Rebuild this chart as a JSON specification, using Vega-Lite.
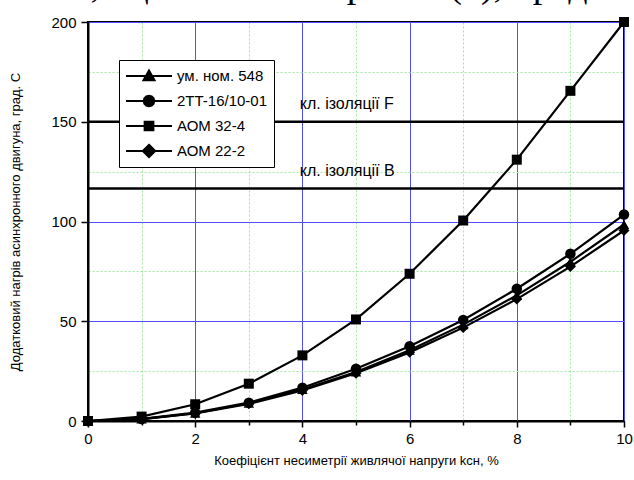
{
  "$schema": "https://vega.github.io/schema/vega-lite/v6.json",
  "width": 536,
  "height": 399,
  "autosize": {"type": "none"},
  "padding": {"left": 88, "top": 22, "right": 10, "bottom": 59},
  "background": "white",
  "title": {
    "text": "шині, оцінений за виразом (6), предста",
    "font": "Liberation Serif",
    "fontSize": 38,
    "fontWeight": "normal",
    "color": "black",
    "anchor": "start",
    "frame": "group",
    "baseline": "alphabetic",
    "dx": -78,
    "offset": -20
  },
  "config": {
    "view": {"stroke": "black", "strokeWidth": 2},
    "font": "Liberation Sans",
    "axis": {
      "domainColor": "black",
      "domainWidth": 2,
      "tickColor": "black",
      "tickWidth": 1.5,
      "labelFont": "Liberation Sans",
      "labelFontSize": 15,
      "labelColor": "black",
      "titleFont": "Liberation Sans",
      "titleFontSize": 13,
      "titleFontWeight": "normal",
      "titleColor": "black",
      "gridOpacity": 1
    },
    "legend": {
      "orient": "none",
      "legendX": 31,
      "legendY": 38,
      "strokeColor": "black",
      "fillColor": "white",
      "padding": 6,
      "symbolSize": 2116,
      "clipHeight": 20,
      "rowPadding": 5,
      "symbolStrokeWidth": 2,
      "symbolStrokeColor": "black",
      "symbolFillColor": "black",
      "symbolOpacity": 1,
      "labelFont": "Liberation Sans",
      "labelFontSize": 15,
      "labelColor": "black",
      "labelOffset": 4,
      "labelLimit": 300
    }
  },
  "datasets": {
    "series": [
      {"x": 0, "y": 0, "s": "ум. ном. 548"},
      {"x": 1, "y": 0.98, "s": "ум. ном. 548"},
      {"x": 2, "y": 3.9, "s": "ум. ном. 548"},
      {"x": 3, "y": 8.9, "s": "ум. ном. 548"},
      {"x": 4, "y": 15.8, "s": "ум. ном. 548"},
      {"x": 5, "y": 24.6, "s": "ум. ном. 548"},
      {"x": 6, "y": 35.5, "s": "ум. ном. 548"},
      {"x": 7, "y": 48.3, "s": "ум. ном. 548"},
      {"x": 8, "y": 63.0, "s": "ум. ном. 548"},
      {"x": 9, "y": 79.8, "s": "ум. ном. 548"},
      {"x": 10, "y": 98.5, "s": "ум. ном. 548"},
      {"x": 0, "y": 0, "s": "2TT-16/10-01"},
      {"x": 1, "y": 1.03, "s": "2TT-16/10-01"},
      {"x": 2, "y": 4.2, "s": "2TT-16/10-01"},
      {"x": 3, "y": 9.2, "s": "2TT-16/10-01"},
      {"x": 4, "y": 16.7, "s": "2TT-16/10-01"},
      {"x": 5, "y": 26.2, "s": "2TT-16/10-01"},
      {"x": 6, "y": 37.5, "s": "2TT-16/10-01"},
      {"x": 7, "y": 50.6, "s": "2TT-16/10-01"},
      {"x": 8, "y": 66.3, "s": "2TT-16/10-01"},
      {"x": 9, "y": 83.8, "s": "2TT-16/10-01"},
      {"x": 10, "y": 103.5, "s": "2TT-16/10-01"},
      {"x": 0, "y": 0, "s": "АОМ 32-4"},
      {"x": 1, "y": 2.2, "s": "АОМ 32-4"},
      {"x": 2, "y": 8.4, "s": "АОМ 32-4"},
      {"x": 3, "y": 18.7, "s": "АОМ 32-4"},
      {"x": 4, "y": 32.9, "s": "АОМ 32-4"},
      {"x": 5, "y": 50.9, "s": "АОМ 32-4"},
      {"x": 6, "y": 73.8, "s": "АОМ 32-4"},
      {"x": 7, "y": 100.5, "s": "АОМ 32-4"},
      {"x": 8, "y": 131.0, "s": "АОМ 32-4"},
      {"x": 9, "y": 165.5, "s": "АОМ 32-4"},
      {"x": 10, "y": 200, "s": "АОМ 32-4"},
      {"x": 0, "y": 0, "s": "АОМ 22-2"},
      {"x": 1, "y": 0.95, "s": "АОМ 22-2"},
      {"x": 2, "y": 3.8, "s": "АОМ 22-2"},
      {"x": 3, "y": 8.6, "s": "АОМ 22-2"},
      {"x": 4, "y": 15.3, "s": "АОМ 22-2"},
      {"x": 5, "y": 23.9, "s": "АОМ 22-2"},
      {"x": 6, "y": 34.4, "s": "АОМ 22-2"},
      {"x": 7, "y": 46.8, "s": "АОМ 22-2"},
      {"x": 8, "y": 61.1, "s": "АОМ 22-2"},
      {"x": 9, "y": 77.4, "s": "АОМ 22-2"},
      {"x": 10, "y": 95.5, "s": "АОМ 22-2"}
    ],
    "levels": [
      {"level": 150, "label": "кл. ізоляції F"},
      {"level": 116.5, "label": "кл. ізоляції B"}
    ]
  },
  "encoding": {
    "x": {
      "type": "quantitative",
      "scale": {"domain": [0, 10], "nice": false, "zero": false},
      "axis": {
        "title": "Коефіцієнт несиметрії живлячої напруги kсн, %",
        "values": [0, 1, 2, 3, 4, 5, 6, 7, 8, 9, 10],
        "labelExpr": "datum.value % 2 == 0 ? datum.label : ''",
        "grid": true,
        "gridColor": {"condition": {"test": "datum.value % 2 == 0", "value": "#5050ff"}, "value": "#9ee89e"},
        "gridDash": {"condition": {"test": "datum.value % 2 == 0", "value": []}, "value": [2, 2]},
        "tickSize": {"condition": {"test": "datum.value % 2 == 0", "value": 6}, "value": 4},
        "labelPadding": 4,
        "titlePadding": 8,
        "labelFlush": false
      }
    },
    "y": {
      "type": "quantitative",
      "scale": {"domain": [0, 200], "nice": false},
      "axis": {
        "title": "Додатковий нагрів асинхронного двигуна, град. С",
        "values": [0, 25, 50, 75, 100, 125, 150, 175, 200],
        "labelExpr": "datum.value % 50 == 0 ? datum.label : ''",
        "grid": true,
        "gridColor": {"condition": {"test": "datum.value % 50 == 0", "value": "#5050ff"}, "value": "#9ee89e"},
        "gridDash": {"condition": {"test": "datum.value % 50 == 0", "value": []}, "value": [2, 2]},
        "tickSize": {"condition": {"test": "datum.value % 50 == 0", "value": 7}, "value": 0},
        "labelPadding": 5,
        "titlePadding": 28,
        "labelFlush": false
      }
    }
  },
  "layer": [
    {
      "data": {"name": "levels"},
      "mark": {"type": "rule", "color": "black", "strokeWidth": 2.5},
      "encoding": {"y": {"field": "level", "type": "quantitative"}, "x": null}
    },
    {
      "data": {"name": "levels"},
      "mark": {"type": "text", "align": "left", "baseline": "alphabetic", "dy": -13, "fontSize": 16, "font": "Liberation Sans", "color": "black"},
      "encoding": {
        "x": {"datum": 3.95, "type": "quantitative"},
        "y": {"field": "level", "type": "quantitative"},
        "text": {"field": "label"}
      }
    },
    {
      "data": {"name": "series"},
      "mark": {"type": "line", "strokeWidth": 2.2},
      "encoding": {
        "x": {"field": "x", "type": "quantitative"},
        "y": {"field": "y", "type": "quantitative"},
        "stroke": {
          "field": "s",
          "type": "nominal",
          "scale": {
            "domain": ["ум. ном. 548", "2TT-16/10-01", "АОМ 32-4", "АОМ 22-2"],
            "range": ["black", "black", "black", "black"]
          },
          "legend": {"title": null}
        }
      }
    },
    {
      "data": {"name": "series"},
      "transform": [{"filter": "datum.s == 'ум. ном. 548'"}],
      "mark": {"type": "point", "filled": true, "color": "black", "opacity": 1, "size": 110, "shape": "triangle-up"},
      "encoding": {"x": {"field": "x", "type": "quantitative"}, "y": {"field": "y", "type": "quantitative"}}
    },
    {
      "data": {"name": "series"},
      "transform": [{"filter": "datum.s == '2TT-16/10-01'"}],
      "mark": {"type": "point", "filled": true, "color": "black", "opacity": 1, "size": 110, "shape": "circle"},
      "encoding": {"x": {"field": "x", "type": "quantitative"}, "y": {"field": "y", "type": "quantitative"}}
    },
    {
      "data": {"name": "series"},
      "transform": [{"filter": "datum.s == 'АОМ 32-4'"}],
      "mark": {"type": "point", "filled": true, "color": "black", "opacity": 1, "size": 100, "shape": "square"},
      "encoding": {"x": {"field": "x", "type": "quantitative"}, "y": {"field": "y", "type": "quantitative"}}
    },
    {
      "data": {"name": "series"},
      "transform": [{"filter": "datum.s == 'АОМ 22-2'"}],
      "mark": {"type": "point", "filled": true, "color": "black", "opacity": 1, "size": 120, "shape": "diamond"},
      "encoding": {"x": {"field": "x", "type": "quantitative"}, "y": {"field": "y", "type": "quantitative"}}
    },
    {
      "data": {"name": "series"},
      "transform": [{"filter": "false"}],
      "mark": {"type": "point", "filled": true, "color": "black", "opacity": 1, "size": 2116},
      "encoding": {
        "x": {"field": "x", "type": "quantitative"},
        "y": {"field": "y", "type": "quantitative"},
        "shape": {
          "field": "s",
          "type": "nominal",
          "scale": {
            "domain": ["ум. ном. 548", "2TT-16/10-01", "АОМ 32-4", "АОМ 22-2"],
            "range": [
              "M-1,0H1M0,-0.24L0.24,0.18L-0.24,0.18Z",
              "M-1,0H1M0.23,0L0.2,0.115L0.115,0.2L0,0.23L-0.115,0.2L-0.2,0.115L-0.23,0L-0.2,-0.115L-0.115,-0.2L0,-0.23L0.115,-0.2L0.2,-0.115Z",
              "M-1,0H1M-0.19,-0.19H0.19V0.19H-0.19Z",
              "M-1,0H1M0,-0.27L0.27,0L0,0.27L-0.27,0Z"
            ]
          },
          "legend": {"title": null}
        }
      }
    }
  ]
}
